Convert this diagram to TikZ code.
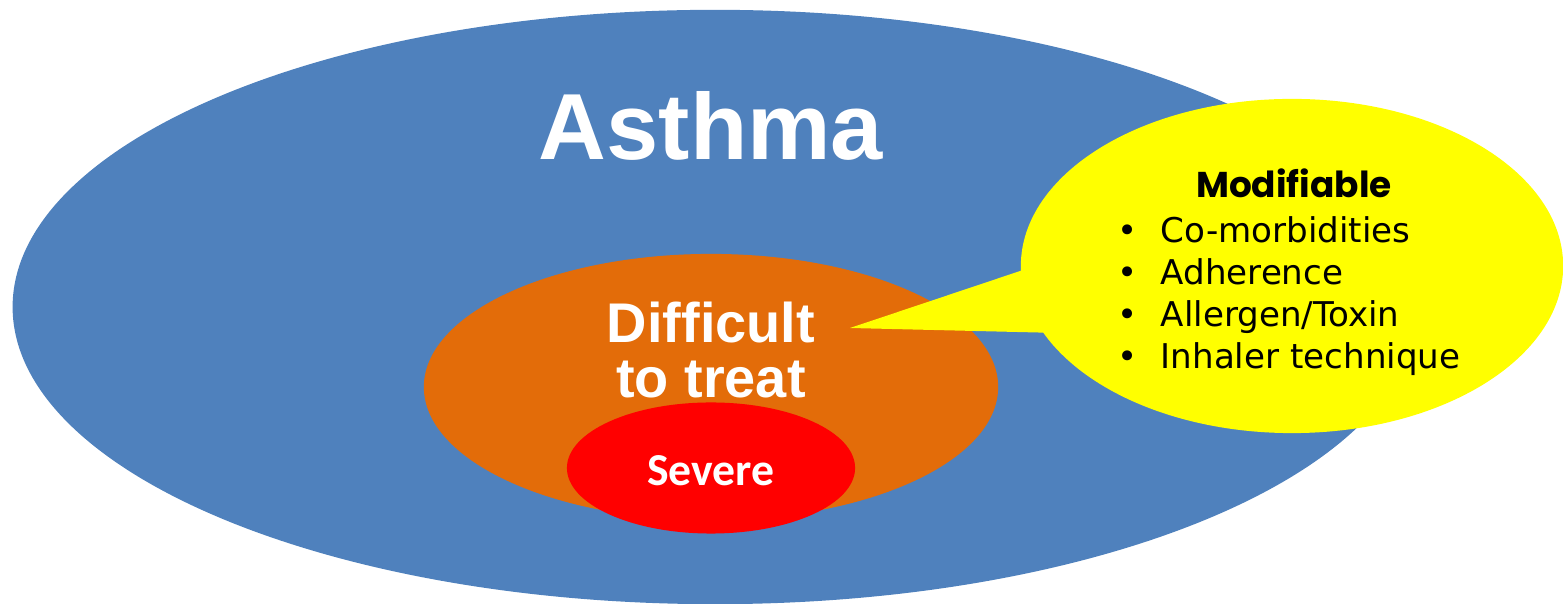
\documentclass[tikz,border=0pt]{standalone}
\usepackage{fontspec}
\setmainfont{Liberation Sans}
\newfontfamily\listfont{DejaVu Sans}
\newfontfamily\headfont{Poppins}
\newfontfamily\sevfont{Carlito}
\usetikzlibrary{shapes.geometric,positioning}

\definecolor{asthmablue}{HTML}{4F81BD}
\definecolor{treatorange}{HTML}{E36C09}
\definecolor{severered}{HTML}{FF0000}
\definecolor{bubbleyellow}{HTML}{FFFF00}

\begin{document}
\begin{tikzpicture}[
  x=0.01cm, y=-0.01cm,
  blob/.style     ={ellipse,inner sep=0pt,outer sep=0pt},
  bigtitle/.style ={text=white,font=\fontsize{26.7}{32}\selectfont\bfseries,anchor=base},
  midtitle/.style ={text=white,font=\fontsize{15.9}{15.6}\selectfont\bfseries,align=center},
  smalltitle/.style={text=white,font=\sevfont\fontsize{13}{15}\selectfont\bfseries,anchor=base},
  headtext/.style ={text=black,font=\headfont\fontsize{10.2}{12}\selectfont\bfseries,anchor=base},
  itemtext/.style ={text=black,font=\listfont\fontsize{9.7}{11.9}\selectfont,anchor=base west,inner sep=0pt},
]
\useasboundingbox (0,0) rectangle (1563,604);

%% ======================================================
%% Nested sets
%% ======================================================
\node[blob,fill=asthmablue,minimum width=14.04cm,minimum height=5.94cm]  (asthma) at (715,307) {};
\node[blob,fill=treatorange,minimum width=5.74cm,minimum height=2.66cm]  (difficult) at (711,387) {};
\node[blob,fill=severered,minimum width=2.88cm,minimum height=1.31cm]    (severe) at (711,468) {};

\node[bigtitle]   (asthmalbl) at (711,160) {Asthma};
\node[midtitle]   (difflbl)   at (711,350) {Difficult\\to treat};
\node[smalltitle] (severelbl) at (711,486) {Severe};

%% ======================================================
%% Callout bubble
%% ======================================================
\node[blob,fill=bubbleyellow,minimum width=5.42cm,minimum height=3.34cm] (bubble) at (1292,266) {};
\coordinate (tip) at (850,328);
\fill[bubbleyellow] (bubble.181) -- (tip) -- (bubble.195) -- cycle;

\node[headtext] (modlbl) at (1294,198) {Modifiable};
\foreach \txt [count=\i] in {Co-morbidities,Adherence,Allergen/Toxin,Inhaler technique}
  \node[itemtext] (item\i) at (1117,{243+41.7*(\i-1)}) {\makebox[0.43cm][l]{•}\txt};

\end{tikzpicture}
\end{document}
